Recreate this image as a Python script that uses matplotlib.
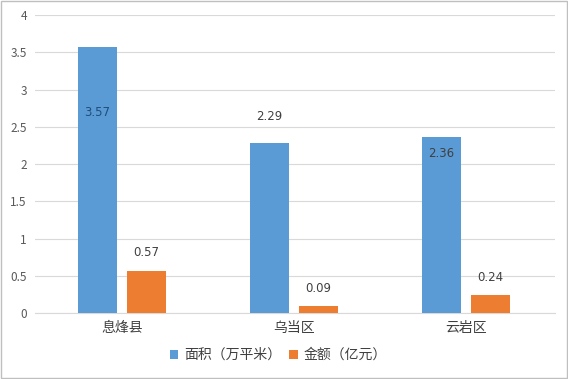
import numpy as np
import matplotlib.pyplot as plt

plt.rcParams['font.family'] = ['Noto Sans CJK SC', 'DejaVu Sans']

# data
categories = ["息烽县", "乌当区", "云岩区"]
area = [3.57, 2.29, 2.36]      # 面积（万平米）
amount = [0.57, 0.09, 0.24]    # 金额（亿元）
yticks = [0, 0.5, 1, 1.5, 2, 2.5, 3, 3.5, 4]

blue = "#5B9BD5"
orange = "#ED7D31"

fig = plt.figure(figsize=(5.68, 3.79), dpi=100)
ax = fig.add_axes([0.062, 0.174, 0.915, 0.786])

x = np.arange(len(categories))
w = 0.227
b1 = ax.bar(x - 0.143, area, w, color=blue, label="面积（万平米）", zorder=3)
b2 = ax.bar(x + 0.143, amount, w, color=orange, label="金额（亿元）", zorder=3)

# label offsets (points from bar top), mimicking the original placement
area_dy = [-47, 19, -12]
area_col = ["#1F4E79", "#404040", "#404040"]
for rect, v, dy, c in zip(b1, area, area_dy, area_col):
    ax.annotate(f"{v:.2f}", (rect.get_x() + rect.get_width() / 2, v),
                xytext=(0, dy), textcoords="offset points", ha="center", va="center",
                fontsize=8.5, color=c, family="DejaVu Sans")
amount_dy = [13, 13, 13]
for rect, v, dy in zip(b2, amount, amount_dy):
    ax.annotate(f"{v:.2f}", (rect.get_x() + rect.get_width() / 2, v),
                xytext=(0, dy), textcoords="offset points", ha="center", va="center",
                fontsize=8.5, color="#404040", family="DejaVu Sans")

ax.set_ylim(0, 4)
ax.set_xlim(-0.506, 2.52)
ax.set_yticks(yticks)
ax.set_yticklabels([f"{t:g}" for t in yticks], fontsize=8.5, color="#595959")
ax.set_xticks(x)
ax.set_xticklabels(categories, fontsize=10, color="#404040")
ax.tick_params(axis="both", length=0, pad=6)
ax.grid(axis="y", color="#D9D9D9", linewidth=0.8, zorder=0)
for s in ["top", "right", "left"]:
    ax.spines[s].set_visible(False)
ax.spines["bottom"].set_color("#D9D9D9")

fig.legend(handles=[b1, b2], loc="center", bbox_to_anchor=(0.49, 0.063), ncol=2,
           frameon=False, fontsize=10, handlelength=0.6, handleheight=0.6,
           columnspacing=0.6, handletextpad=0.4, labelcolor="#404040")

fig.patches.append(plt.Rectangle((0.002, 0.002), 0.996, 0.996, transform=fig.transFigure,
                                 fill=False, edgecolor="#BFBFBF", linewidth=1))

fig.savefig("out.png", dpi=100)
